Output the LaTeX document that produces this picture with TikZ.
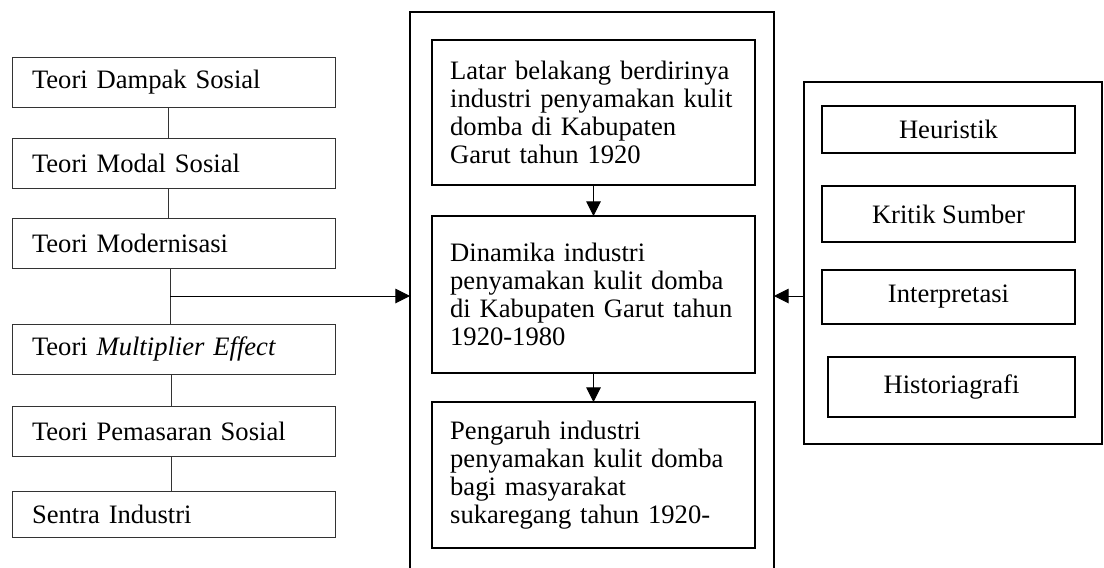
\documentclass[tikz,border=0pt]{standalone}
\usepackage{fontspec}
\setmainfont{Liberation Serif}
\usepackage{tikz}
\usetikzlibrary{arrows.meta}
\newcommand{\teks}{\fontsize{19.95pt}{21pt}\selectfont}
\tikzset{teori/.style={rectangle,draw=black!80,line width=0.75pt,minimum height=37.5pt,text width=212.25pt,inner xsep=15pt,inner ysep=0pt,align=left,outer sep=0pt,font=\teks}}
\tikzset{isi/.style={rectangle,draw,line width=1.6pt,text width=215pt,inner xsep=13.6pt,align=left,outer sep=0pt,font=\teks}}
\tikzset{metode/.style={rectangle,draw,line width=1.6pt,minimum width=189.75pt,align=center,outer sep=0pt,font=\teks}}
\tikzset{bingkai/.style={rectangle,draw,line width=1.5pt,outer sep=0pt}}

\begin{document}
\begin{tikzpicture}[x=0.75pt,y=-0.75pt,>={Triangle[length=11pt,width=11pt]}]
    \useasboundingbox (0,0) rectangle (1104,568);

    % teori
    \node[teori] (dampak)at (173.5,82) {Teori Dampak Sosial};
    \node[teori] (modal)at (173.5,163) {Teori Modal Sosial};
    \node[teori] (modern)at (173.5,243) {Teori Modernisasi};
    \node[teori] (multi)at (173.5,349) {Teori \textit{Multiplier Effect}};
    \node[teori] (pasar)at (173.5,431) {Teori Pemasaran Sosial};
    \node[teori,minimum height=34.5pt] (sentra)at (173.5,514) {Sentra Industri};

    % pembahasan
    \node[bingkai,minimum width=273pt,minimum height=426pt] (tengah)at (592,296) {};
    \node[isi,minimum height=108.75pt] (latar)at (593.5,112.5) {Latar belakang berdirinya\\industri penyamakan kulit\\domba di Kabupaten\\Garut tahun 1920};
    \node[isi,minimum height=117.75pt] (dinamika)at (593.5,294.5) {Dinamika industri\\penyamakan kulit domba\\di Kabupaten Garut tahun\\1920-1980};
    \node[isi,minimum height=109.5pt] (pengaruh)at (593.5,475) {Pengaruh industri\\penyamakan kulit domba\\bagi masyarakat\\sukaregang tahun 1920-};

    % metode
    \node[bingkai,minimum width=223.5pt,minimum height=271.5pt] (kanan)at (953,263) {};
    \node[metode,minimum height=35.25pt] (heuristik)at (948.5,129.5) {Heuristik};
    \node[metode,minimum height=42pt] (kritik)at (948.5,214) {Kritik Sumber};
    \node[metode,minimum height=40.5pt] (interpretasi)at (948.5,297) {Interpretasi};
    \node[metode,minimum width=185.25pt,minimum height=45pt] (historiografi)at (951.5,387) {Historiagrafi};

    \coordinate (cabang) at (170,296);

    \draw [black!80,line width=0.75pt] (dampak.south -| 168,0) to [] (modal.north -| 168,0);
    \draw [black!80,line width=0.75pt] (modal.south -| 168,0) to [] (modern.north -| 168,0);
    \draw [black!80,line width=0.75pt] (modern.south -| cabang) to [] (multi.north -| cabang);
    \draw [black!80,line width=0.75pt] (multi.south -| 171,0) to [] (pasar.north -| 171,0);
    \draw [black!80,line width=0.75pt] (pasar.south -| 171,0) to [] (sentra.north -| 171,0);
    \draw [->,line width=0.75pt] (cabang) to [] (cabang -| tengah.west);

    \draw [->,line width=0.75pt] (latar) to [] (dinamika);
    \draw [->,line width=0.75pt] (dinamika) to [] (pengaruh);
    \draw [->,line width=0.75pt] (kanan.west |- cabang) to [] (tengah.east |- cabang);
\end{tikzpicture}
\end{document}
